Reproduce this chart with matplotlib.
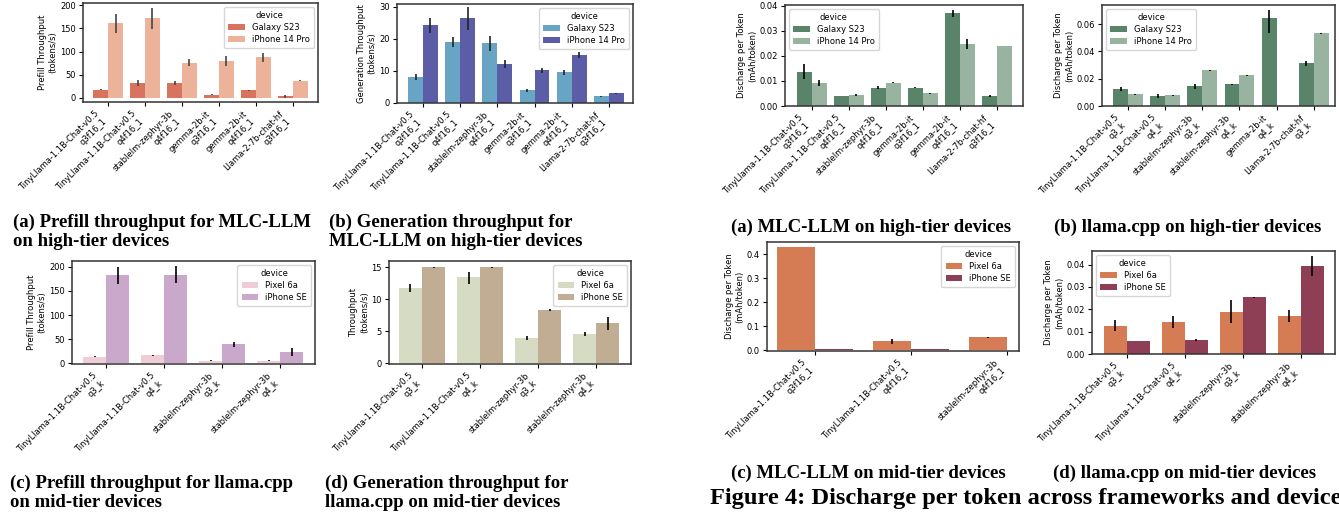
import numpy as np
import matplotlib
matplotlib.use("Agg")
import matplotlib.pyplot as plt

W, H = 1339, 519

# ---- data ----
tl = "TinyLlama-1.1B-Chat-v0.5"
sz = "stablelm-zephyr-3b"
gm = "gemma-2b-it"
ll = "Llama-2-7b-chat-hf"

mlc_high_labels = [tl + "\nq3f16_1", tl + "\nq4f16_1", sz + "\nq4f16_1",
                   gm + "\nq3f16_1", gm + "\nq4f16_1", ll + "\nq3f16_1"]
cpp_high_labels = [tl + "\nq3_k", tl + "\nq4_k", sz + "\nq3_k",
                   sz + "\nq4_k", gm + "\nq4_k", ll + "\nq3_k"]
cpp_mid_labels = [tl + "\nq3_k", tl + "\nq4_k", sz + "\nq3_k", sz + "\nq4_k"]
mlc_mid_labels = [tl + "\nq3f16_1", tl + "\nq4f16_1", sz + "\nq4f16_1"]

high_devices = ["Galaxy S23", "iPhone 14 Pro"]
mid_devices = ["Pixel 6a", "iPhone SE"]

# (a) prefill MLC high
pa_s23 = [18, 33, 33, 7, 16, 3]
pa_s23_lo = [16, 26, 28, 6, 15, -1]
pa_s23_hi = [20, 39, 37, 7.5, 17, 7]
pa_ip = [161, 172, 76, 80, 89, 37]
pa_ip_lo = [141, 148, 68, 68, 78, 36.5]
pa_ip_hi = [182, 195, 84, 91, 98, 37.5]

# (b) generation MLC high
gb_s23 = [8.0, 19.0, 18.6, 4.0, 9.7, 2.1]
gb_s23_lo = [7.3, 17.4, 16.1, 3.5, 8.75, 2.0]
gb_s23_hi = [9.0, 20.6, 20.9, 4.4, 10.3, 2.2]
gb_ip = [24.3, 26.5, 12.2, 10.2, 14.9, 3.0]
gb_ip_lo = [21.7, 22.7, 10.9, 9.4, 13.9, 2.9]
gb_ip_hi = [26.4, 29.8, 13.5, 10.8, 15.9, 3.1]

# discharge MLC high
da_s23 = [0.0136, 0.00385, 0.0073, 0.0073, 0.0371, 0.00385]
da_s23_lo = [0.0106, 0.00385, 0.0068, 0.0072, 0.0353, 0.0035]
da_s23_hi = [0.0167, 0.00385, 0.0080, 0.0074, 0.0384, 0.0044]
da_ip = [0.0092, 0.0044, 0.0092, 0.0050, 0.0247, 0.0239]
da_ip_lo = [0.0080, 0.0039, 0.0090, 0.0049, 0.0227, 0.0239]
da_ip_hi = [0.0104, 0.0049, 0.0094, 0.0051, 0.0266, 0.0239]

# discharge llama.cpp high
db_s23 = [0.0122, 0.0071, 0.0144, 0.0159, 0.0649, 0.0312]
db_s23_lo = [0.0107, 0.0061, 0.0127, 0.0156, 0.0539, 0.0295]
db_s23_hi = [0.0137, 0.0085, 0.0163, 0.0162, 0.0702, 0.0327]
db_ip = [0.0085, 0.0078, 0.0261, 0.0227, np.nan, 0.0532]
db_ip_lo = [0.0083, 0.0075, 0.0260, 0.0223, np.nan, 0.0531]
db_ip_hi = [0.0087, 0.0081, 0.0262, 0.0231, np.nan, 0.0533]

# (c) prefill llama.cpp mid
pc_px = [13.7, 16.5, 5.5, 5.5]
pc_px_lo = [13.2, 16.0, 5.2, 5.2]
pc_px_hi = [14.2, 17.0, 5.8, 5.8]
pc_se = [182, 184, 40.5, 23.4]
pc_se_lo = [164, 166, 33.7, 15.8]
pc_se_hi = [199, 201, 44.7, 32.3]

# (d) generation llama.cpp mid
gd_px = [11.8, 13.5, 4.0, 4.6]
gd_px_lo = [11.1, 12.45, 3.7, 4.3]
gd_px_hi = [12.35, 14.3, 4.2, 4.9]
gd_se = [15.0, 15.0, 8.35, 6.33]
gd_se_lo = [14.9, 14.9, 8.15, 5.14]
gd_se_hi = [15.1, 15.1, 8.5, 7.27]

# discharge MLC mid
dc_px = [0.429, 0.0376, 0.054]
dc_px_lo = [0.429, 0.026, 0.052]
dc_px_hi = [0.429, 0.047, 0.056]
dc_se = [0.007, 0.007, np.nan]
dc_se_lo = [0.007, 0.007, np.nan]
dc_se_hi = [0.007, 0.007, np.nan]

# discharge llama.cpp mid
dd_px = [0.0127, 0.0145, 0.0190, 0.0172]
dd_px_lo = [0.0102, 0.0118, 0.0138, 0.0145]
dd_px_hi = [0.0153, 0.0168, 0.0243, 0.0198]
dd_se = [0.0060, 0.0064, 0.0253, 0.0393]
dd_se_lo = [0.0060, 0.0058, 0.0251, 0.0349]
dd_se_hi = [0.0060, 0.0069, 0.0255, 0.0437]

FS = 6
plt.rcParams["font.family"] = "DejaVu Sans"
plt.rcParams["font.size"] = FS

fig = plt.figure(figsize=(W / 100, H / 100), dpi=100)


def box(l, t, r, b):
    return [l / W, 1 - b / H, (r - l) / W, (b - t) / H]


def panel(px, labels, devices, colors, vals, los, his, ylabel, yticks, ylim,
          xlim, loc, errc="black", ticklabels=None):
    ax = fig.add_axes(box(*px))
    x = np.arange(len(labels))
    for k in range(2):
        xs = x + (k - 0.5) * 0.4
        ax.bar(xs, vals[k], width=0.4, color=colors[k], label=devices[k])
        ax.vlines(xs, los[k], his[k], color=errc, lw=1.2)
    ax.set_xticks(x)
    ax.set_xticklabels(labels, rotation=45, ha="right", fontsize=FS)
    ax.set_yticks(yticks)
    if ticklabels is not None:
        ax.set_yticklabels(ticklabels)
    ax.tick_params(labelsize=FS, length=3, width=0.8, pad=2)
    ax.set_ylim(*ylim)
    ax.set_xlim(*xlim)
    ax.set_ylabel(ylabel, fontsize=FS, labelpad=2)
    for s in ax.spines.values():
        s.set_linewidth(1.1)
        s.set_color("#333333")
    ax.legend(title="device", loc=loc, fontsize=FS, title_fontsize=FS,
              handlelength=2.0, borderpad=0.5, labelspacing=0.35)
    return ax


panel((83, 3, 318, 102), mlc_high_labels, high_devices, ["#d8735f", "#edb29a"],
      [pa_s23, pa_ip], [pa_s23_lo, pa_ip_lo], [pa_s23_hi, pa_ip_hi],
      "Prefill Throughput\n(tokens/s)", [0, 50, 100, 150, 200], (-9, 205),
      (-0.68, 5.68), "upper right", errc="#444444")

panel((397, 4, 633, 103), mlc_high_labels, high_devices, ["#68a4c3", "#5b5ea6"],
      [gb_s23, gb_ip], [gb_s23_lo, gb_ip_lo], [gb_s23_hi, gb_ip_hi],
      "Generation Throughput\n(tokens/s)", [0, 10, 20, 30], (0, 30.8),
      (-0.7, 5.65), "upper right", errc="#222222")

panel((785, 5, 1023, 106), mlc_high_labels, high_devices, ["#5a8469", "#98b3a0"],
      [da_s23, da_ip], [da_s23_lo, da_ip_lo], [da_s23_hi, da_ip_hi],
      "Discharge per Token\n(mAh/token)", [0, 0.01, 0.02, 0.03, 0.04],
      (0, 0.0402), (-0.72, 5.7), "upper left",
      ticklabels=["0.00", "0.01", "0.02", "0.03", "0.04"])

panel((1102, 5, 1335, 106), cpp_high_labels, high_devices, ["#5a8469", "#98b3a0"],
      [db_s23, db_ip], [db_s23_lo, db_ip_lo], [db_s23_hi, db_ip_hi],
      "Discharge per Token\n(mAh/token)", [0, 0.02, 0.04, 0.06],
      (0, 0.0741), (-0.7, 5.57), "upper left",
      ticklabels=["0.00", "0.02", "0.04", "0.06"])

panel((72, 261, 315, 364), cpp_mid_labels, mid_devices, ["#eecdd6", "#c9a8cb"],
      [pc_px, pc_se], [pc_px_lo, pc_se_lo], [pc_px_hi, pc_se_hi],
      "Prefill Throughput\n(tokens/s)", [0, 50, 100, 150, 200], (-1.5, 212),
      (-0.59, 3.6), "upper right")

panel((389, 261, 631, 364), cpp_mid_labels, mid_devices, ["#d5dcc3", "#c0ad94"],
      [gd_px, gd_se], [gd_px_lo, gd_se_lo], [gd_px_hi, gd_se_hi],
      "Throughput\n(tokens/s)", [0, 5, 10, 15], (-0.1, 16.0),
      (-0.57, 3.6), "upper right")

panel((767, 242, 1019, 351), mlc_mid_labels, mid_devices, ["#d67c55", "#8e3f55"],
      [dc_px, dc_se], [dc_px_lo, dc_se_lo], [dc_px_hi, dc_se_hi],
      "Discharge per Token\n(mAh/token)", [0, 0.1, 0.2, 0.3, 0.4], (-0.003, 0.450),
      (-0.5, 2.125), "upper right",
      ticklabels=["0.0", "0.1", "0.2", "0.3", "0.4"])

panel((1092, 251, 1335, 354), cpp_mid_labels, mid_devices, ["#d67c55", "#8e3f55"],
      [dd_px, dd_se], [dd_px_lo, dd_se_lo], [dd_px_hi, dd_se_hi],
      "Discharge per Token\n(mAh/token)", [0, 0.01, 0.02, 0.03, 0.04],
      (0, 0.0461), (-0.6, 3.59), "upper left",
      ticklabels=["0.00", "0.01", "0.02", "0.03", "0.04"])

# ---- captions ----
cap = dict(family="Liberation Serif", weight="bold", fontsize=13.5, va="baseline")


def caption(x, y, s, ha="left", **kw):
    d = dict(cap)
    d.update(kw)
    fig.text(x / W, 1 - y / H, s, ha=ha, **d)


caption(13, 227, "(a) Prefill throughput for MLC-LLM")
caption(13, 246, "on high-tier devices")
caption(329, 227, "(b) Generation throughput for")
caption(329, 246, "MLC-LLM on high-tier devices")
caption(871, 232, "(a) MLC-LLM on high-tier devices", ha="center")
caption(1188, 232, "(b) llama.cpp on high-tier devices", ha="center")
caption(10, 488, "(c) Prefill throughput for llama.cpp")
caption(10, 507, "on mid-tier devices")
caption(325, 488, "(d) Generation throughput for")
caption(325, 507, "llama.cpp on mid-tier devices")
caption(868, 478, "(c) MLC-LLM on mid-tier devices", ha="center")
caption(1185, 478, "(d) llama.cpp on mid-tier devices", ha="center")
caption(710, 504, "Figure 4: Discharge per token across frameworks and device",
        fontsize=17.6)

fig.savefig("out.png", dpi=100)
